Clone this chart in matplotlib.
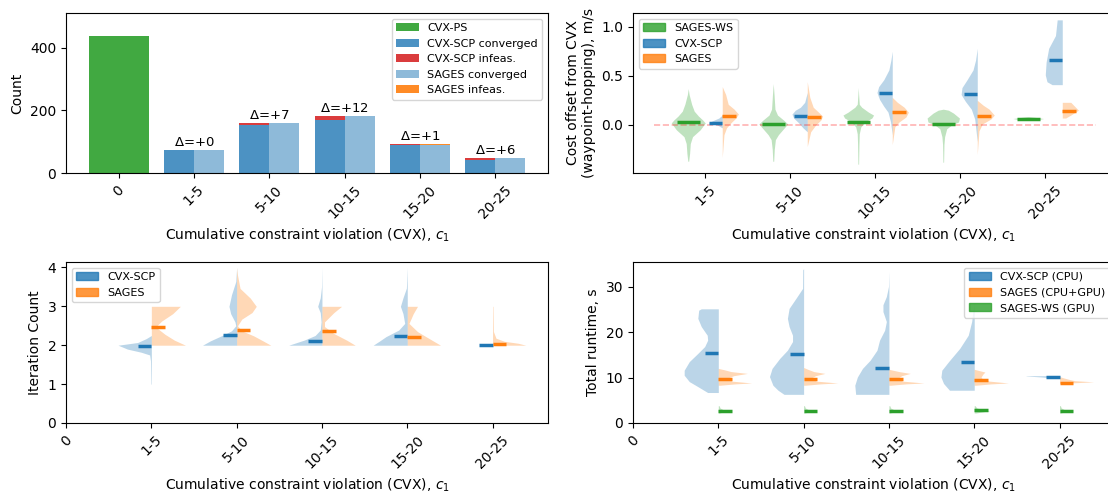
import numpy as np
import matplotlib.pyplot as plt
from matplotlib.patches import Patch

plt.rc('font', size=10)
plt.rc('legend', fontsize=8)

bins = ['0', '1-5', '5-10', '10-15', '15-20', '20-25']

# Solve counts per violation bin
cvxps_count = 437
cvx_conv = [73, 153, 169, 88, 42]
cvx_infeas = [0, 8, 12, 4, 7]
sages_conv = [73, 160, 181, 89, 48]
sages_infeas = [0, 1, 0, 3, 1]

# Cost offset from CVX (waypoint-hopping): means and violin outlines (y, half width)
cost_ws_mean = [0.03, 0.01, 0.03, 0.01, 0.06]
cost_cvx_mean = [0.02, 0.09, 0.33, 0.31, 0.66]
cost_sages_mean = [0.09, 0.08, 0.13, 0.09, 0.14]

cost_ws_y = [[-0.37, -0.29, -0.19, -0.12, -0.05, 0.02, 0.05, 0.09, 0.14, 0.21, 0.31, 0.37],
             [-0.37, -0.25, -0.15, -0.10, -0.04, 0.01, 0.05, 0.10, 0.16, 0.30, 0.42],
             [-0.40, -0.20, -0.09, -0.02, 0.03, 0.07, 0.10, 0.13, 0.18, 0.21, 0.30, 0.38],
             [-0.38, -0.20, -0.12, -0.04, 0.0, 0.03, 0.07, 0.12, 0.15, 0.16],
             [0.045, 0.055, 0.065, 0.075, 0.085]]
cost_ws_w = [[0.005, 0.016, 0.024, 0.05, 0.14, 0.20, 0.17, 0.12, 0.07, 0.04, 0.01, 0.0],
             [0.005, 0.012, 0.025, 0.06, 0.12, 0.17, 0.12, 0.05, 0.02, 0.01, 0.0],
             [0.004, 0.008, 0.012, 0.03, 0.08, 0.16, 0.18, 0.12, 0.04, 0.012, 0.005, 0.0],
             [0.004, 0.008, 0.016, 0.04, 0.10, 0.18, 0.19, 0.12, 0.06, 0.0],
             [0.0, 0.12, 0.18, 0.10, 0.0]]

cost_cvx_y = [[-0.03, 0.0, 0.02, 0.04, 0.07, 0.10],
              [-0.07, -0.03, 0.02, 0.07, 0.11, 0.15, 0.18, 0.23, 0.33],
              [-0.10, 0.03, 0.13, 0.19, 0.26, 0.33, 0.39, 0.46, 0.56, 0.66, 0.75],
              [-0.17, 0.06, 0.16, 0.24, 0.31, 0.38, 0.46, 0.56, 0.66, 0.78],
              [0.41, 0.41, 0.44, 0.51, 0.64, 0.78, 0.91, 1.07, 1.07]]
cost_cvx_w = [[0.0, 0.06, 0.16, 0.12, 0.04, 0.0],
              [0.0, 0.05, 0.10, 0.16, 0.18, 0.14, 0.08, 0.03, 0.0],
              [0.0, 0.02, 0.05, 0.10, 0.15, 0.18, 0.16, 0.10, 0.04, 0.016, 0.0],
              [0.0, 0.03, 0.07, 0.14, 0.19, 0.18, 0.12, 0.05, 0.02, 0.0],
              [0.0, 0.12, 0.18, 0.20, 0.19, 0.16, 0.08, 0.06, 0.0]]

cost_sages_y = [[-0.33, -0.10, -0.03, 0.02, 0.07, 0.11, 0.16, 0.21, 0.31, 0.39],
                [-0.22, -0.07, 0.0, 0.05, 0.09, 0.14, 0.18, 0.28, 0.44],
                [-0.20, -0.02, 0.03, 0.08, 0.13, 0.18, 0.23, 0.28],
                [-0.30, -0.06, 0.01, 0.06, 0.10, 0.16, 0.20, 0.25],
                [0.07, 0.07, 0.10, 0.15, 0.23, 0.23]]
cost_sages_w = [[0.0, 0.02, 0.05, 0.10, 0.16, 0.19, 0.14, 0.07, 0.04, 0.0],
                [0.0, 0.04, 0.10, 0.16, 0.18, 0.12, 0.07, 0.03, 0.0],
                [0.0, 0.03, 0.08, 0.16, 0.19, 0.14, 0.06, 0.0],
                [0.0, 0.02, 0.06, 0.16, 0.20, 0.14, 0.07, 0.0],
                [0.0, 0.04, 0.10, 0.19, 0.10, 0.0]]

# Iteration count
iter_cvx_mean = [1.98, 2.25, 2.11, 2.24, 2.0]
iter_sages_mean = [2.46, 2.39, 2.36, 2.22, 2.02]

iter_cvx_y = [[1.0, 1.6, 1.75, 1.82, 1.9, 2.0, 2.07, 2.17, 2.25],
              [2.0, 2.11, 2.24, 2.37, 2.5, 2.6, 2.81, 3.0, 3.3, 3.64, 4.0],
              [2.0, 2.13, 2.25, 2.39, 2.6, 2.84, 3.0, 3.22, 3.5, 4.0],
              [2.0, 2.1, 2.22, 2.39, 2.56, 2.81, 3.0, 3.22, 3.47, 4.0],
              []]
iter_cvx_w = [[0.005, 0.01, 0.02, 0.12, 0.28, 0.39, 0.16, 0.06, 0.0],
              [0.40, 0.31, 0.18, 0.06, 0.01, 0.02, 0.07, 0.09, 0.06, 0.01, 0.0],
              [0.39, 0.21, 0.08, 0.02, 0.01, 0.02, 0.05, 0.02, 0.005, 0.0],
              [0.40, 0.33, 0.25, 0.10, 0.03, 0.05, 0.08, 0.05, 0.01, 0.0],
              []]

iter_sages_y = [[2.0, 2.13, 2.28, 2.47, 2.62, 2.81, 3.0, 3.0],
                [2.0, 2.11, 2.24, 2.37, 2.5, 2.67, 2.84, 3.0, 3.21, 3.46, 3.8, 4.0],
                [2.0, 2.13, 2.3, 2.48, 2.6, 2.84, 3.0, 3.0],
                [2.0, 2.18, 2.35, 2.56, 2.81, 3.0, 3.0],
                [2.0, 2.05, 2.1, 2.18, 2.35, 3.0]]
iter_sages_w = [[0.40, 0.27, 0.16, 0.05, 0.12, 0.25, 0.34, 0.0],
                [0.40, 0.31, 0.20, 0.06, 0.01, 0.06, 0.18, 0.23, 0.16, 0.04, 0.01, 0.0],
                [0.39, 0.29, 0.14, 0.03, 0.03, 0.14, 0.23, 0.0],
                [0.39, 0.25, 0.12, 0.02, 0.07, 0.12, 0.0],
                [0.39, 0.30, 0.14, 0.04, 0.01, 0.005]]

# Total runtime
rt_cvx_mean = [15.4, 15.2, 12.0, 13.3, 10.1]
rt_sages_mean = [9.7, 9.6, 9.6, 9.35, 8.9]
rt_ws_mean = [2.7, 2.7, 2.7, 2.8, 2.7]

rt_cvx_y = [[6.7, 6.7, 8.0, 9.1, 10.5, 11.6, 13.5, 15.3, 16.8, 18.2, 19.3, 21.2, 23.0, 24.8, 25.1, 25.1],
            [6.3, 6.3, 7.2, 8.3, 10.2, 12.0, 14.2, 16.0, 17.9, 19.3, 21.2, 23.0, 25.2, 27.4, 29.6, 33.7, 33.9],
            [6.3, 6.3, 8.3, 10.1, 12.0, 13.8, 16.0, 18.2, 20.4, 22.3, 24.5, 26.0, 27.8, 30.0, 33.3],
            [7.2, 7.2, 8.7, 10.1, 11.6, 13.5, 16.4, 19.3, 22.3, 24.5, 26.5],
            [9.8, 9.95, 10.1, 10.25, 10.35, 10.4, 10.4]]
rt_cvx_w = [[0.0, 0.125, 0.24, 0.34, 0.40, 0.40, 0.34, 0.24, 0.16, 0.125, 0.13, 0.20, 0.24, 0.23, 0.20, 0.0],
            [0.0, 0.23, 0.30, 0.36, 0.40, 0.37, 0.28, 0.19, 0.13, 0.13, 0.17, 0.19, 0.17, 0.09, 0.012, 0.01, 0.0],
            [0.0, 0.39, 0.40, 0.37, 0.31, 0.22, 0.14, 0.11, 0.05, 0.03, 0.07, 0.07, 0.03, 0.005, 0.0],
            [0.0, 0.29, 0.36, 0.39, 0.38, 0.30, 0.17, 0.07, 0.03, 0.015, 0.0],
            [0.05, 0.12, 0.20, 0.32, 0.40, 0.38, 0.0]]

rt_sages_y = [[8.3, 8.6, 8.8, 9.2, 9.9, 10.4, 10.9, 11.3, 11.7, 12.0],
              [8.3, 8.6, 8.8, 9.2, 9.9, 10.4, 10.9, 11.3, 11.8, 12.2],
              [8.3, 8.6, 8.8, 9.2, 9.8, 10.4, 10.9, 11.3, 11.8],
              [8.3, 8.6, 8.8, 9.2, 9.6, 10.1, 10.7, 11.2, 11.8],
              [8.7, 9.05, 9.3, 9.5, 9.9, 10.2]]
rt_sages_w = [[0.02, 0.20, 0.39, 0.16, 0.11, 0.18, 0.34, 0.15, 0.07, 0.0],
              [0.02, 0.20, 0.40, 0.15, 0.09, 0.14, 0.25, 0.12, 0.05, 0.0],
              [0.02, 0.20, 0.41, 0.16, 0.10, 0.15, 0.25, 0.12, 0.0],
              [0.02, 0.20, 0.40, 0.18, 0.10, 0.08, 0.10, 0.125, 0.0],
              [0.02, 0.40, 0.18, 0.13, 0.05, 0.0]]

rt_ws_y = [[2.2, 2.5, 2.7, 2.9, 3.3, 3.8]] * 5
rt_ws_w = [[0.01, 0.08, 0.16, 0.06, 0.02, 0.01],
           [0.01, 0.08, 0.16, 0.06, 0.02, 0.01],
           [0.01, 0.08, 0.16, 0.06, 0.02, 0.01],
           [0.02, 0.12, 0.18, 0.10, 0.03, 0.01],
           [0.01, 0.08, 0.16, 0.06, 0.02, 0.01]]

XLABEL = 'Cumulative constraint violation (CVX), $c_1$'
C_CVX, C_SAGES, C_WS = 'tab:blue', 'tab:orange', 'tab:green'


def violin(ax, pos, y, w, color, side):
    # side: 'left', 'right' or 'both' half of the violin around pos
    if len(y) == 0:
        return
    y = np.asarray(y)
    w = np.asarray(w)
    lo = pos - w if side in ('left', 'both') else np.full_like(w, pos)
    hi = pos + w if side in ('right', 'both') else np.full_like(w, pos)
    ax.fill_betweenx(y, lo, hi, color=color, alpha=0.3, lw=0)


def mean_bar(ax, x0, x1, y, color):
    ax.plot([x0, x1], [y, y], color=color, lw=2.5, solid_capstyle='butt', zorder=4)


fig = plt.figure(figsize=(11.08, 4.96), dpi=100)
ax1 = fig.add_axes([0.0596, 0.6512, 0.435, 0.3226])
ax2 = fig.add_axes([0.5713, 0.6512, 0.435, 0.3226])
ax3 = fig.add_axes([0.0596, 0.1472, 0.435, 0.3246])
ax4 = fig.add_axes([0.5713, 0.1472, 0.435, 0.3246])

# --- counts ---
pos = np.arange(1, len(bins))
cvx_conv = np.array(cvx_conv)
sages_conv = np.array(sages_conv)
ax1.bar(0, cvxps_count, 0.8, color=C_WS, alpha=0.9, label='CVX-PS')
ax1.bar(pos - 0.2, cvx_conv, 0.4, color=C_CVX, alpha=0.8, label='CVX-SCP converged')
ax1.bar(pos - 0.2, cvx_infeas, 0.4, bottom=cvx_conv, color='tab:red', alpha=0.9,
        label='CVX-SCP infeas.')
ax1.bar(pos + 0.2, sages_conv, 0.4, color=C_CVX, alpha=0.5, label='SAGES converged')
ax1.bar(pos + 0.2, sages_infeas, 0.4, bottom=sages_conv, color=C_SAGES, alpha=0.9,
        label='SAGES infeas.')
for i, p in enumerate(pos):
    top = max(cvx_conv[i] + cvx_infeas[i], sages_conv[i] + sages_infeas[i])
    delta = sages_conv[i] - cvx_conv[i]
    ax1.text(p, top + 3, '$\\Delta$=+{0}'.format(delta), ha='center', va='bottom', fontsize=9.5)
ax1.set_xticks(np.arange(len(bins)))
ax1.set_xticklabels(bins, rotation=45)
ax1.set_xlim(-0.7, 5.7)
ax1.set_ylim(0, 511)
ax1.set_ylabel('Count')
ax1.set_xlabel(XLABEL)
ax1.legend(loc='upper right')

# --- cost offset ---
for i, p in enumerate(pos):
    violin(ax2, p - 0.2, cost_ws_y[i], cost_ws_w[i], C_WS, 'both')
    violin(ax2, p + 0.2, cost_cvx_y[i], cost_cvx_w[i], C_CVX, 'left')
    violin(ax2, p + 0.2, cost_sages_y[i], cost_sages_w[i], C_SAGES, 'right')
    mean_bar(ax2, p - 0.335, p - 0.065, cost_ws_mean[i], C_WS)
    mean_bar(ax2, p + 0.04, p + 0.2, cost_cvx_mean[i], C_CVX)
    mean_bar(ax2, p + 0.2, p + 0.36, cost_sages_mean[i], C_SAGES)
ax2.plot([0.4, 5.6], [0, 0], '--', color='red', alpha=0.3, lw=1.2, zorder=3)
ax2.set_xticks(pos)
ax2.set_xticklabels(bins[1:], rotation=45)
ax2.set_xlim(0.15, 5.82)
ax2.set_ylim(-0.49, 1.14)
ax2.set_ylabel('Cost offset from CVX\n(waypoint-hopping), m/s')
ax2.set_xlabel(XLABEL)
ax2.legend(handles=[Patch(color=C_WS, alpha=0.8, label='SAGES-WS'),
                    Patch(color=C_CVX, alpha=0.8, label='CVX-SCP'),
                    Patch(color=C_SAGES, alpha=0.8, label='SAGES')], loc='upper left')

# --- iteration count ---
for i, p in enumerate(pos):
    violin(ax3, p, iter_cvx_y[i], iter_cvx_w[i], C_CVX, 'left')
    violin(ax3, p, iter_sages_y[i], iter_sages_w[i], C_SAGES, 'right')
    mean_bar(ax3, p - 0.16, p, iter_cvx_mean[i], C_CVX)
    mean_bar(ax3, p, p + 0.16, iter_sages_mean[i], C_SAGES)
ax3.set_xticks(np.arange(len(bins)))
ax3.set_xticklabels(bins, rotation=45)
ax3.set_xlim(0, 5.65)
ax3.set_ylim(0, 4.14)
ax3.set_yticks([0, 1, 2, 3, 4])
ax3.set_ylabel('Iteration Count')
ax3.set_xlabel(XLABEL)
ax3.legend(handles=[Patch(color=C_CVX, alpha=0.8, label='CVX-SCP'),
                    Patch(color=C_SAGES, alpha=0.8, label='SAGES')], loc='upper left')

# --- runtime ---
for i, p in enumerate(pos):
    violin(ax4, p, rt_cvx_y[i], rt_cvx_w[i], C_CVX, 'left')
    violin(ax4, p, rt_sages_y[i], rt_sages_w[i], C_SAGES, 'right')
    violin(ax4, p, rt_ws_y[i], rt_ws_w[i], C_WS, 'right')
    mean_bar(ax4, p - 0.16, p, rt_cvx_mean[i], C_CVX)
    mean_bar(ax4, p, p + 0.16, rt_sages_mean[i], C_SAGES)
    mean_bar(ax4, p, p + 0.16, rt_ws_mean[i], C_WS)
ax4.set_xticks(np.arange(len(bins)))
ax4.set_xticklabels(bins, rotation=45)
ax4.set_xlim(0, 5.65)
ax4.set_ylim(0, 35.4)
ax4.set_ylabel('Total runtime, s')
ax4.set_xlabel(XLABEL)
ax4.legend(handles=[Patch(color=C_CVX, alpha=0.8, label='CVX-SCP (CPU)'),
                    Patch(color=C_SAGES, alpha=0.8, label='SAGES (CPU+GPU)'),
                    Patch(color=C_WS, alpha=0.8, label='SAGES-WS (GPU)')], loc='upper right')

fig.savefig('out.png', dpi=100)
